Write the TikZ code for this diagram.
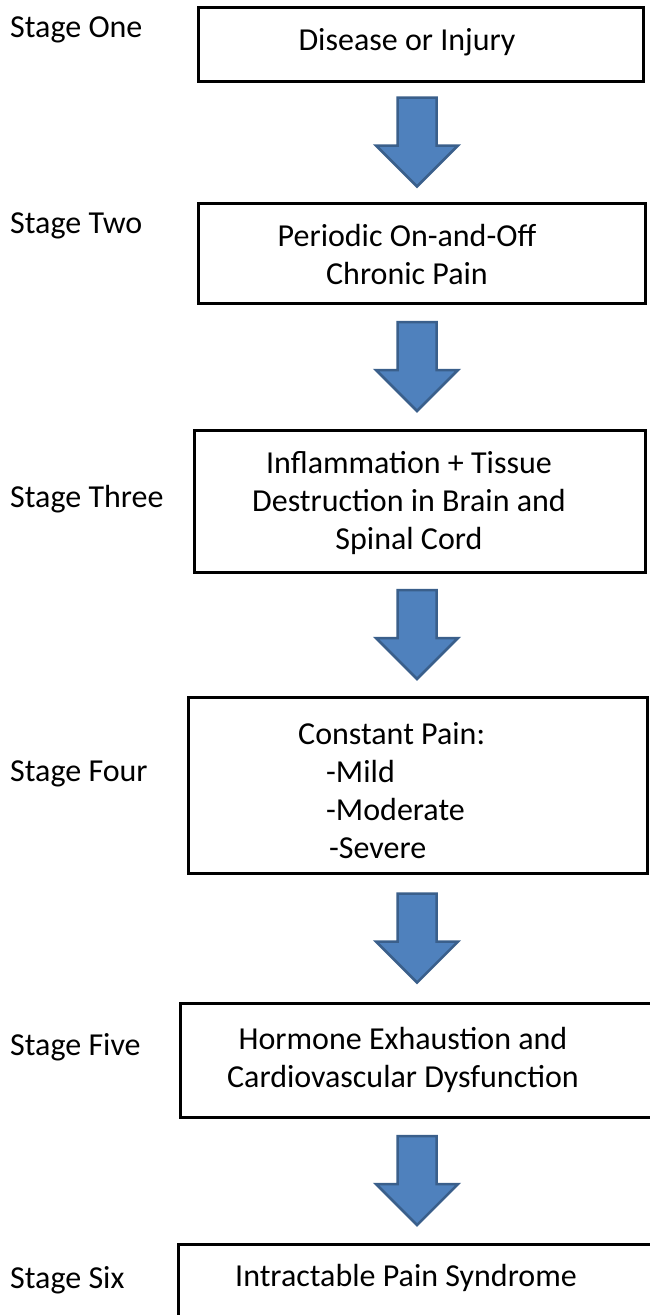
\documentclass[tikz,border=0pt]{standalone}
\usepackage{fontspec}
\setmainfont{Carlito}
\usetikzlibrary{positioning,calc}
\definecolor{arrowfill}{HTML}{4F81BD}
\definecolor{arrowline}{HTML}{3A5F8B}
\newcommand{\stagefont}{\fontsize{32}{38}\selectfont}

\begin{document}
\begin{tikzpicture}[
                    x=1pt, y=-1pt,
                    stagebox/.style={draw, rectangle, line width=3pt, inner sep=0pt},
                    boxtext/.style={align=center, inner sep=0pt, font=\stagefont},
                    stagename/.style={anchor=west, inner sep=0pt, font=\stagefont},
                    downarrow/.pic={
                        \filldraw[fill=arrowfill, draw=arrowline, line width=2.5pt]
                            (-19.5,-44.5) -- (19.5,-44.5) -- (19.5,3.5) -- (41,3.5)
                            -- (0,44.5) -- (-41,3.5) -- (-19.5,3.5) -- cycle;
                    }
                    ]
        \useasboundingbox (0,0) rectangle (649,1315);

        % boxes
        \node [stagebox, minimum width=445pt, minimum height=74pt] (b1) at (420.5,44) {};
        \node [stagebox, minimum width=447pt, minimum height=100pt] (b2) at (421.5,253) {};
        \node [stagebox, minimum width=451pt, minimum height=142pt] (b3) at (419.5,501) {};
        \node [stagebox, minimum width=459pt, minimum height=176pt] (b4) at (417.5,785) {};
        \node [stagebox, minimum width=490pt, minimum height=114pt] (b5) at (425,1060) {};
        \node [stagebox, minimum width=495pt, minimum height=90pt] (b6) at (425.5,1289) {};

        % texts in boxes
        \node [boxtext] (t1) at (407,42) {Disease or Injury};
        \node [boxtext] (t2) at (407,255) {Periodic On-and-Off\\Chronic Pain};
        \node [boxtext] (t3) at (409,503) {Inflammation + Tissue\\Destruction in Brain and\\Spinal Cord};
        \node [boxtext, align=left, anchor=west] (t4) at (298,791)
            {Constant Pain:\\\hspace*{28pt}-Mild\\\hspace*{28pt}-Moderate\\\hspace*{31pt}-Severe};
        \node [boxtext] (t5) at (403,1060) {Hormone Exhaustion and\\Cardiovascular Dysfunction};
        \node [boxtext] (t6) at (406,1278) {Intractable Pain Syndrome};

        % stage names
        \node [stagename] (s1) at (10,30) {Stage One};
        \node [stagename] (s2) at (10,226) {Stage Two};
        \node [stagename] (s3) at (10,499) {Stage Three};
        \node [stagename] (s4) at (10,774) {Stage Four};
        \node [stagename] (s5) at (10,1047) {Stage Five};
        \node [stagename] (s6) at (10,1280) {Stage Six};

        % block arrows
        \coordinate (ax) at (417,0);
        \foreach \a/\b in {b1/b2, b2/b3, b3/b4, b4/b5, b5/b6} {
            \coordinate (m\a) at ($(\a.south)!0.5!(\b.north)$);
            \pic at (m\a -| ax) {downarrow};
        }
\end{tikzpicture}
\end{document}
